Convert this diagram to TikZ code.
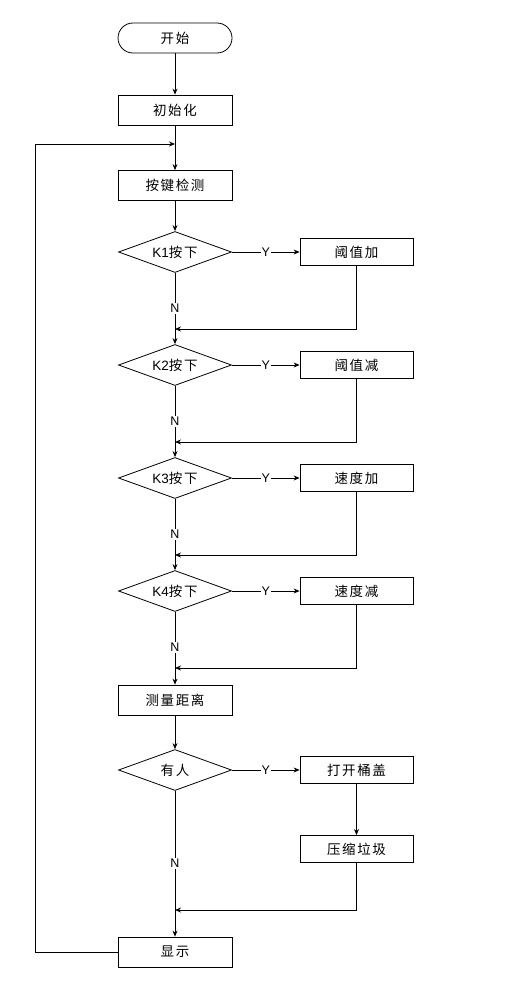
\documentclass[tikz,border=0pt]{standalone}
\usepackage{fontspec}
\setmainfont{Liberation Sans}
\newfontfamily\cjk[LetterSpace=12]{Noto Sans CJK SC}
\usetikzlibrary{shapes.geometric,arrows.meta}
\begin{document}
\begin{tikzpicture}[x=1pt,y=-1pt,
  line width=0.8pt,
  txt/.style={font=\cjk\fontsize{13.5}{16}\selectfont},
  mainbox/.style={draw,rectangle,txt,minimum width=114pt,minimum height=30pt,inner sep=0pt},
  sidebox/.style={draw,rectangle,txt,minimum width=113pt,minimum height=27pt,inner sep=0pt},
  term/.style={draw,rectangle,rounded corners=15pt,txt,minimum width=114pt,minimum height=30pt,inner sep=0pt},
  decision/.style={draw,diamond,aspect=3,txt,minimum width=113pt,minimum height=41pt,inner sep=0pt},
  arr/.style={-{Stealth[length=6pt,width=5pt]}},
  lab/.style={fill=white,inner sep=1pt,font=\fontsize{12.5}{14}\selectfont}]
\useasboundingbox[fill=white] (0,0) rectangle (512,982);

\node[term] (start) at (175,38) {开始};
\node[mainbox] (init) at (175,110) {初始化};
\node[mainbox] (key) at (175,185.5) {按键检测};
\node[decision] (k1) at (175,252) {{\fontspec{Liberation Sans}K1}按下};
\node[decision] (k2) at (175,365) {{\fontspec{Liberation Sans}K2}按下};
\node[decision] (k3) at (175,478) {{\fontspec{Liberation Sans}K3}按下};
\node[decision] (k4) at (175,591) {{\fontspec{Liberation Sans}K4}按下};
\node[sidebox] (a1) at (356.5,252) {阈值加};
\node[sidebox] (a2) at (356.5,365) {阈值减};
\node[sidebox] (a3) at (356.5,478) {速度加};
\node[sidebox] (a4) at (356.5,591) {速度减};
\node[mainbox] (meas) at (175,700) {测量距离};
\node[decision] (ppl) at (175,770) {有人};
\node[sidebox] (open) at (356.5,770) {打开桶盖};
\node[sidebox] (press) at (356.5,849) {压缩垃圾};
\node[mainbox] (disp) at (175,952) {显示};

\coordinate (loopin) at (175,144);
\coordinate (loopbl) at (35,952);
\coordinate (loopt) at (35,144);
\coordinate (m1) at (175,329);
\coordinate (m2) at (175,442);
\coordinate (m3) at (175,555);
\coordinate (m4) at (175,668);
\coordinate (m5) at (175,910);

\draw[arr] (start) -- (init);
\draw[arr] (init) -- (key);
\draw[arr] (disp.west) -- (loopbl) -- (loopt) -- (loopin);
\draw[arr] (key) -- (k1);

\draw[arr] (k1.east) -- node[lab]{Y} (a1.west);
\draw[arr] (a1.south) |- (m1);
\draw (k1.south) -- node[lab,pos=0.63]{N} (m1);
\draw[arr] (m1) -- (k2.north);

\draw[arr] (k2.east) -- node[lab]{Y} (a2.west);
\draw[arr] (a2.south) |- (m2);
\draw (k2.south) -- node[lab,pos=0.63]{N} (m2);
\draw[arr] (m2) -- (k3.north);

\draw[arr] (k3.east) -- node[lab]{Y} (a3.west);
\draw[arr] (a3.south) |- (m3);
\draw (k3.south) -- node[lab,pos=0.63]{N} (m3);
\draw[arr] (m3) -- (k4.north);

\draw[arr] (k4.east) -- node[lab]{Y} (a4.west);
\draw[arr] (a4.south) |- (m4);
\draw (k4.south) -- node[lab,pos=0.63]{N} (m4);
\draw[arr] (m4) -- (meas.north);

\draw[arr] (meas) -- (ppl);
\draw[arr] (ppl.east) -- node[lab]{Y} (open.west);
\draw[arr] (open) -- (press);
\draw[arr] (press.south) |- (m5);
\draw (ppl.south) -- node[lab,pos=0.61]{N} (m5);
\draw[arr] (m5) -- (disp.north);
\end{tikzpicture}
\end{document}
